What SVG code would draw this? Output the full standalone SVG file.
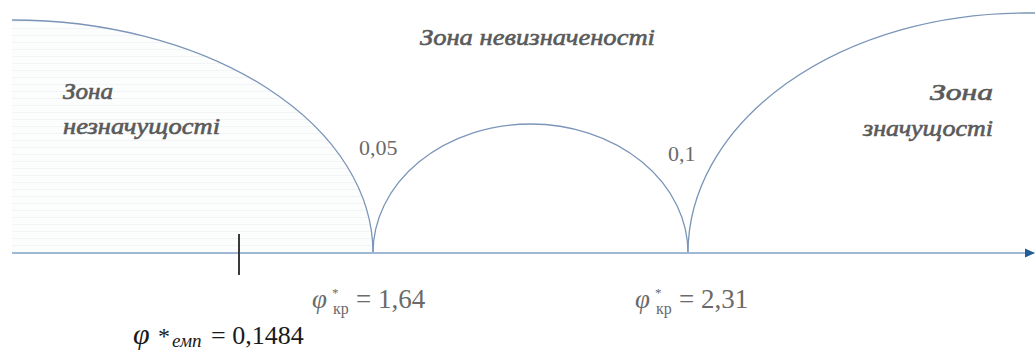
<svg xmlns="http://www.w3.org/2000/svg" width="1035" height="358" viewBox="0 0 1035 358">
  <style>
    .arc { fill: none; stroke: #7b95b8; stroke-width: 1.3; }
    .zone { font-family: "Liberation Serif", "DejaVu Serif", "Noto Serif", serif; font-style: italic; font-weight: normal; fill: #5a5a5a; stroke: #5a5a5a; stroke-width: 0.6; }
    .num { font-family: "Liberation Serif", "DejaVu Serif", serif; font-size: 22px; fill: #6a6a6a; }
    .math { font-family: "Liberation Serif", "DejaVu Serif", serif; fill: #6a6a6a; }
    .emp { font-family: "Liberation Serif", "DejaVu Serif", serif; fill: #1a1a1a; }
  </style>
  <defs>
    <pattern id="hatch" width="8" height="7" patternUnits="userSpaceOnUse">
      <rect width="8" height="7" fill="#fcfdfd"/>
      <line x1="0" y1="0.5" x2="8" y2="0.5" stroke="#f2f4f6" stroke-width="1"/>
    </pattern>
    <marker id="arrow" markerWidth="10" markerHeight="10" refX="9" refY="5" orient="auto" markerUnits="userSpaceOnUse">
      <path d="M0,0.5 L10,5 L0,9.5 Z" fill="#245d98"/>
    </marker>
  </defs>
  <rect width="1035" height="358" fill="#ffffff"/>

  <g id="zone-insignificance">
    <path d="M12,20 A361,233 0 0 1 373,253 L12,253 Z" fill="url(#hatch)"/>
    <path class="arc" d="M12,20 A361,233 0 0 1 373,253"/>
    <text class="zone" x="63" y="99" font-size="23" textLength="50" lengthAdjust="spacingAndGlyphs">Зона</text>
    <text class="zone" x="63" y="134" font-size="23" textLength="157" lengthAdjust="spacingAndGlyphs">незначущості</text>
  </g>

  <g id="zone-uncertainty">
    <path class="arc" d="M373,253 A157.5,129 0 0 1 688,253"/>
    <text class="zone" x="420" y="45" font-size="24" textLength="235" lengthAdjust="spacingAndGlyphs">Зона невизначеності</text>
  </g>

  <g id="zone-significance">
    <path class="arc" d="M688,253 A337,240 0 0 1 1025,13 L1035,13"/>
    <text class="zone" x="930" y="100" font-size="23" textLength="63" lengthAdjust="spacingAndGlyphs">Зона</text>
    <text class="zone" x="863" y="136" font-size="23" textLength="130" lengthAdjust="spacingAndGlyphs">значущості</text>
  </g>

  <g id="connectors">
    <line x1="12" y1="253" x2="1034" y2="253" stroke="#9fb9d5" stroke-width="2" marker-end="url(#arrow)"/>
    <line x1="239" y1="234" x2="239" y2="275" stroke="#3a3a3a" stroke-width="2"/>
  </g>

  <g id="level-labels">
    <text class="num" x="359" y="155" font-size="23">0,05</text>
    <text class="num" x="668" y="161" font-size="23">0,1</text>
  </g>

  <g id="critical-1">
    <text class="math" x="312" y="308" font-size="27" font-style="italic">φ</text>
    <text class="math" x="332" y="297" font-size="13">*</text>
    <text class="math" x="333" y="314" font-size="16">кр</text>
    <text class="math" x="356" y="308" font-size="27">= 1,64</text>
  </g>

  <g id="critical-2">
    <text class="math" x="635" y="308" font-size="27" font-style="italic">φ</text>
    <text class="math" x="655" y="297" font-size="13">*</text>
    <text class="math" x="656" y="314" font-size="16">кр</text>
    <text class="math" x="679" y="308" font-size="27">= 2,31</text>
  </g>

  <g id="empirical">
    <text class="emp" x="133" y="344" font-size="30" font-style="italic">φ</text>
    <text class="emp" x="158" y="344" font-size="24">*</text>
    <text class="emp" x="172" y="347" font-size="19" font-style="italic">емп</text>
    <text class="emp" x="211" y="344" font-size="26">= 0,1484</text>
  </g>
</svg>
